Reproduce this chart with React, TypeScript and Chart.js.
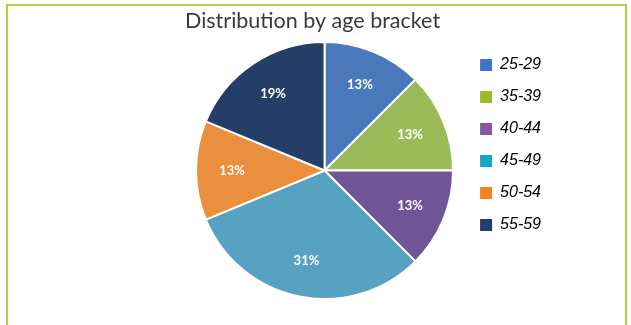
import React, { useEffect, useRef } from "react";
import { Chart, registerables } from "chart.js";

Chart.register(...registerables);

const categories = ["25-29", "35-39", "40-44", "45-49", "50-54", "55-59"];
const counts = [2, 2, 2, 5, 2, 3];
const sliceColors = ["#4a79bb", "#9bbb59", "#6f5596", "#57a1c1", "#ea8f3e", "#243e67"];
const legendColors = ["#4472c4", "#9bbb2a", "#8a55a0", "#17a5c8", "#f58220", "#203f6e"];
const titleText = "Distribution by age bracket";

const sliceLabels = {
  id: "sliceLabels",
  afterDatasetsDraw(chart: any) {
    const ctx = chart.ctx;
    const meta = chart.getDatasetMeta(0);
    const data = chart.data.datasets[0].data as number[];
    const total = data.reduce((a, b) => a + b, 0);
    ctx.save();
    ctx.fillStyle = "#ffffff";
    ctx.font = "bold 13px Lato, 'Open Sans', sans-serif";
    ctx.textAlign = "center";
    ctx.textBaseline = "middle";
    meta.data.forEach((arc: any, i: number) => {
      const p = arc.getProps(["x", "y", "startAngle", "endAngle", "outerRadius"], true);
      const mid = (p.startAngle + p.endAngle) / 2;
      const r = p.outerRadius * 0.72;
      const pct = Math.round((data[i] / total) * 100) + "%";
      ctx.fillText(pct, p.x + Math.cos(mid) * r, p.y + Math.sin(mid) * r);
    });
    ctx.restore();
  },
};

export default function App() {
  const ref = useRef<HTMLCanvasElement>(null);
  useEffect(() => {
    if (!ref.current) return;
    const chart = new Chart(ref.current, {
      type: "pie",
      data: {
        labels: categories,
        datasets: [
          {
            data: counts,
            backgroundColor: sliceColors,
            borderColor: "#ffffff",
            borderWidth: 2,
          },
        ],
      },
      options: {
        animation: false,
        responsive: false,
        maintainAspectRatio: false,
        layout: { padding: { left: 185, right: 80, top: 0, bottom: 25 } },
        plugins: {
          tooltip: { enabled: false },
          title: {
            display: true,
            text: titleText,
            position: "top",
            align: "start",
            fullSize: false,
            color: "#3a3a3a",
            font: { family: "Lato, 'Open Sans', sans-serif", size: 21.5, weight: "normal", lineHeight: 1.2 },
            padding: { top: 8, bottom: 7.2 },
          },
          legend: {
            display: true,
            position: "right",
            align: "start",
            fullSize: false,
            labels: {
              boxWidth: 12,
              boxHeight: 12,
              padding: 16,
              color: "#1e1e1e",
              font: { family: "'Liberation Sans', Arial, sans-serif", size: 16, style: "italic" },
              generateLabels: (c: any) =>
                c.data.labels.map((l: string, i: number) => ({
                  text: l,
                  fillStyle: legendColors[i],
                  strokeStyle: legendColors[i],
                  lineWidth: 0,
                  hidden: false,
                  index: i,
                })),
            },
          },
        },
      },
      plugins: [sliceLabels],
    });
    return () => chart.destroy();
  }, []);
  return (
    <div style={{ position: "absolute", left: 0, top: 0, width: 631, height: 325, overflow: "hidden", background: "#fff" }}>
      <div
        style={{
          position: "absolute",
          left: 6,
          top: 4,
          width: 617,
          height: 340,
          border: "2px solid #b2d03a",
        }}
      />
      <canvas ref={ref} width={631} height={325} style={{ position: "absolute", left: 0, top: 0, width: 631, height: 325 }} />
    </div>
  );
}
